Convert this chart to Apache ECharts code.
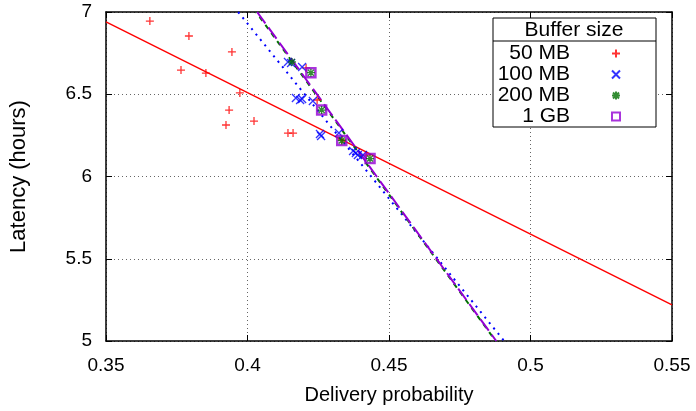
<!DOCTYPE html>
<html>
<head>
<meta charset="utf-8">
<script src="https://cdn.jsdelivr.net/npm/echarts@6/dist/echarts.min.js"></script>
<style>html,body{margin:0;padding:0;background:#fff}#c{width:696px;height:411px}</style>
</head>
<body>
<div id="c"></div>
<script>
var seriesNames = ['50 MB', '100 MB', '200 MB', '1 GB'];
var mb50 = [[0.3655,6.945],[0.3793,6.854],[0.3945,6.757],[0.3765,6.647],[0.3853,6.629],[0.3973,6.508],[0.3935,6.404],[0.3924,6.313],[0.4023,6.337],[0.4143,6.264],[0.4161,6.264],[0.4207,6.660],[0.4246,6.465],[0.4334,6.222],[0.4420,6.130]];
var mb100 = [[0.4143,6.696],[0.4154,6.690],[0.4193,6.666],[0.4171,6.477],[0.4186,6.465],[0.4193,6.471],[0.4231,6.459],[0.4256,6.258],[0.4260,6.246],[0.4323,6.264],[0.4373,6.155],[0.4383,6.143],[0.4390,6.131],[0.4408,6.131]];
var mb200 = [[0.4157,6.696],[0.4224,6.631],[0.4262,6.404],[0.4333,6.219],[0.4433,6.109]];
var gb1 = [[0.4224,6.631],[0.4262,6.404],[0.4333,6.219],[0.4433,6.109]];
var fit50 = [[0.35,6.94],[0.55,5.22]];
var fit100 = [[0.3967,7],[0.4907,5]];
var fit200 = [[0.4030,7],[0.4877,5]];
var fit1g = [[0.4034,7],[0.4879,5]];
var xTicks = {min:0.35, max:0.55, step:0.05};
var yTicks = {min:5, max:7, step:0.5};

var FONT = 'Liberation Sans, Arial, sans-serif';
var plus = 'path://M0,4L8,4M4,0L4,8';
var cross = 'path://M0,0L8,8M0,8L8,0';
var star = 'path://M0,4L8,4M4,0L4,8M1,1L7,7M1,7L7,1';

var chart = echarts.init(document.getElementById('c'), null, {renderer:'canvas'});
var grid = {left:106, right:24, top:12, bottom:70};
var gridLine = {show:true, lineStyle:{color:'#666', type:[1,3], width:1}};
function fmt(v){ return String(Math.round(v*100)/100); }
chart.setOption({
  animation:false,
  backgroundColor:'#fff',
  grid:grid,
  xAxis:[{
    type:'value', min:xTicks.min, max:xTicks.max, interval:xTicks.step,
    name:'Delivery probability', nameLocation:'middle', nameGap:44,
    nameTextStyle:{fontFamily:FONT, fontSize:20, color:'#000'},
    axisLine:{show:true, onZero:false, lineStyle:{color:'#000', width:1.5}},
    axisTick:{show:true, inside:true, length:6, lineStyle:{color:'#000'}},
    axisLabel:{fontFamily:FONT, fontSize:19, color:'#000', margin:15, formatter:fmt},
    splitLine:gridLine
  },{
    type:'value', position:'top', min:xTicks.min, max:xTicks.max, interval:xTicks.step,
    axisLine:{show:true, onZero:false, lineStyle:{color:'#000', width:1.5}},
    axisTick:{show:true, inside:true, length:6, lineStyle:{color:'#000'}},
    axisLabel:{show:false}, splitLine:{show:false}
  }],
  yAxis:[{
    type:'value', min:yTicks.min, max:yTicks.max, interval:yTicks.step,
    name:'Latency (hours)', nameLocation:'middle', nameGap:76,
    nameTextStyle:{fontFamily:FONT, fontSize:22, color:'#000'},
    axisLine:{show:true, onZero:false, lineStyle:{color:'#000', width:1.5}},
    axisTick:{show:true, inside:true, length:6, lineStyle:{color:'#000'}},
    axisLabel:{fontFamily:FONT, fontSize:19, color:'#000', margin:14, formatter:fmt},
    splitLine:gridLine
  },{
    type:'value', position:'right', min:yTicks.min, max:yTicks.max, interval:yTicks.step,
    axisLine:{show:true, onZero:false, lineStyle:{color:'#000', width:1.5}},
    axisTick:{show:true, inside:true, length:6, lineStyle:{color:'#000'}},
    axisLabel:{show:false}, splitLine:{show:false}
  }],
  legend:{
    orient:'vertical', left:473, top:43, padding:0, itemGap:0, align:'right',
    itemWidth:8, itemHeight:8, z:20,
    data:seriesNames,
    formatter:function(n){ return '{a|' + n + '}'; },
    textStyle:{fontFamily:FONT, fontSize:21, color:'#000', lineHeight:21,
      rich:{a:{fontFamily:FONT, fontSize:21, width:97, height:21, align:'right', lineHeight:21, padding:[0,37,0,0]}}}
  },
  graphic:[
    {type:'rect', z:10, shape:{x:493, y:18, width:163, height:109}, style:{fill:'#fff', stroke:'#000', lineWidth:1}},
    {type:'line', z:11, shape:{x1:493, y1:41, x2:656, y2:41}, style:{stroke:'#000', lineWidth:1}},
    {type:'text', z:11, x:574, y:30, style:{text:'Buffer size', fontFamily:FONT, fontSize:21, fill:'#000', align:'center', verticalAlign:'middle'}}
  ],
  series:[
    {type:'line', data:fit50, symbol:'none', silent:true, lineStyle:{color:'#ff0000', width:1.5}, z:2},
    {type:'line', data:fit100, symbol:'none', silent:true, lineStyle:{color:'#0000ff', width:2, type:[2,5]}, z:2},
    {type:'line', data:fit200, symbol:'none', silent:true, lineStyle:{color:'#007000', width:2, type:[5,5], dashOffset:14}, z:2},
    {type:'line', data:fit1g, symbol:'none', silent:true, lineStyle:{color:'#9400d3', width:2, type:[14,5]}, z:3},
    {name:'50 MB', type:'scatter', data:mb50, symbol:plus, symbolSize:8, itemStyle:{color:'#ff0000', borderColor:'#ff0000', borderWidth:1.3}, z:4},
    {name:'100 MB', type:'scatter', data:mb100, symbol:cross, symbolSize:8, itemStyle:{color:'#0000ff', borderColor:'#0000ff', borderWidth:1.3}, z:5},
    {name:'200 MB', type:'scatter', data:mb200, symbol:star, symbolSize:8, itemStyle:{color:'#007000', borderColor:'#007000', borderWidth:1.3}, z:7},
    {name:'1 GB', type:'scatter', data:gb1, symbol:'rect', symbolSize:9, itemStyle:{color:'rgba(0,0,0,0)', borderColor:'#9400d3', borderWidth:2.5}, z:6}
  ]
});
</script>
</body>
</html>
